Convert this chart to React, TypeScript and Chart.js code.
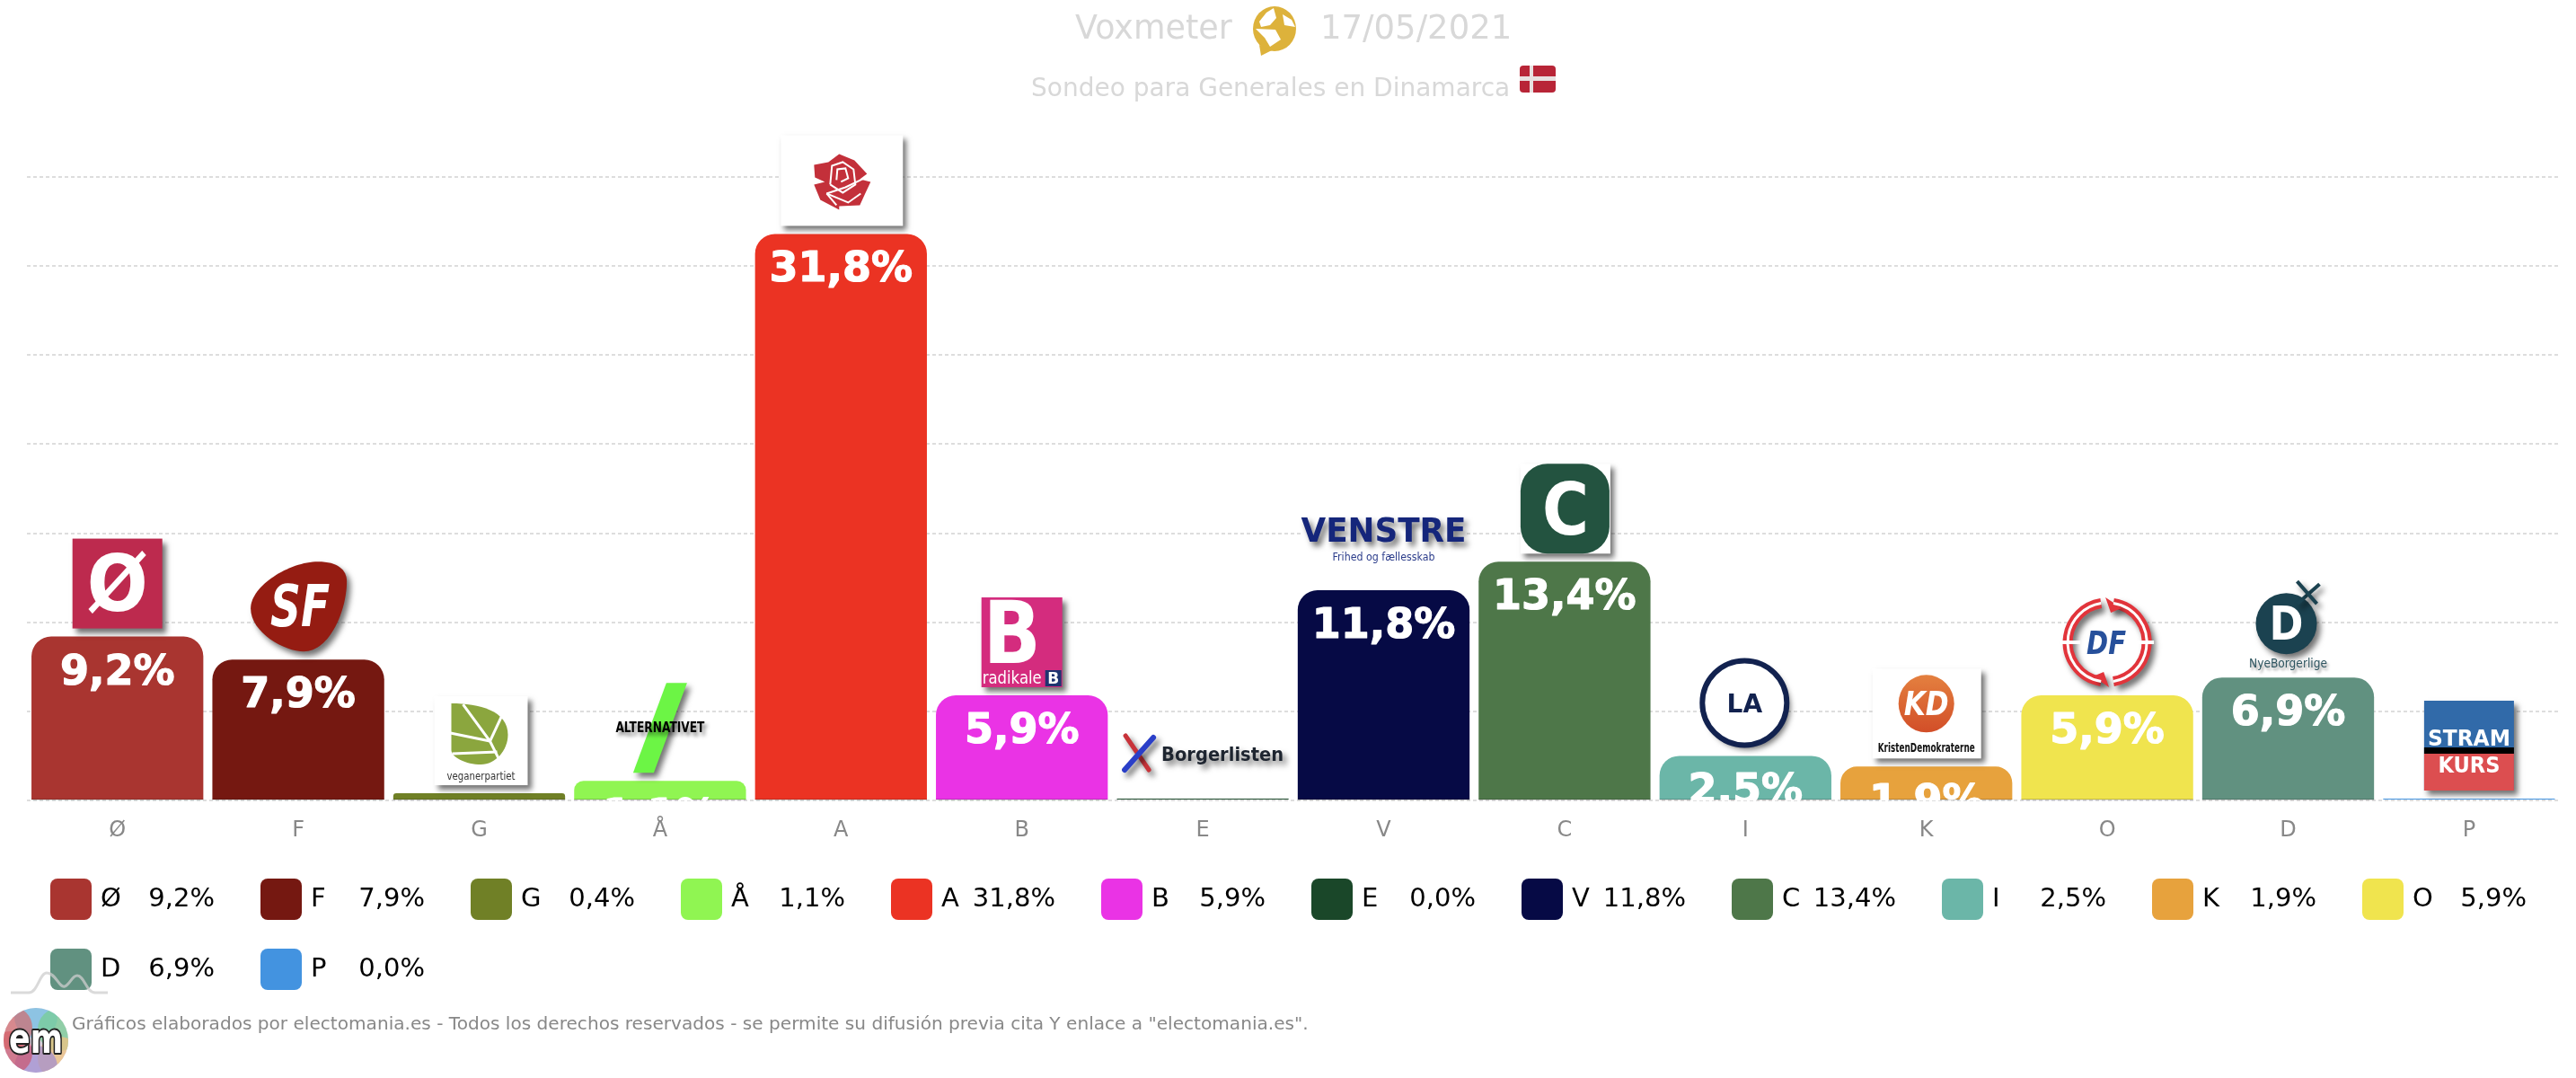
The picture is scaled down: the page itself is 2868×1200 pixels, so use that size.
import React, { useEffect, useRef } from "react";
import { Chart, registerables } from "chart.js";

Chart.register(...registerables);

const parties = ["Ø", "F", "G", "Å", "A", "B", "E", "V", "C", "I", "K", "O", "D", "P"];
const support = [9.2, 7.9, 0.4, 1.1, 31.8, 5.9, 0.0, 11.8, 13.4, 2.5, 1.9, 5.9, 6.9, 0.0];
const partyColors = ["#A93530", "#751811", "#708026", "#90F552", "#EB3323", "#EA33E5", "#1A4729", "#060A45", "#4E7749", "#6BB6A8", "#E7A23D", "#F0E44E", "#619180", "#4393E0"];
const yTicksMax = 35;
const yTickStep = 5;
const pollster = "Voxmeter";
const pollDate = "17/05/2021";
const subtitle = "Sondeo para Generales en Dinamarca";
const footer = 'Gráficos elaborados por electomania.es - Todos los derechos reservados - se permite su difusión previa cita Y enlace a "electomania.es".';

const FONT = '"DejaVu Sans"';
const fmt = (v: number) => v.toFixed(1).replace(".", ",") + "%";

type C = CanvasRenderingContext2D;

function shadow(c: C) {
  c.shadowColor = "rgba(0,0,0,0.55)";
  c.shadowOffsetX = 4;
  c.shadowOffsetY = 5;
  c.shadowBlur = 6;
}
function noShadow(c: C) {
  c.shadowColor = "transparent";
  c.shadowOffsetX = 0;
  c.shadowOffsetY = 0;
  c.shadowBlur = 0;
}
function text(c: C, s: string, x: number, y: number, font: string, color: string, maxW?: number) {
  c.font = font;
  c.fillStyle = color;
  c.textAlign = "center";
  c.textBaseline = "alphabetic";
  if (maxW) c.fillText(s, x, y, maxW);
  else c.fillText(s, x, y);
}
function poly(c: C, pts: number[][]) {
  c.beginPath();
  pts.forEach((p, i) => (i ? c.lineTo(p[0], p[1]) : c.moveTo(p[0], p[1])));
}

const logos: Record<string, (c: C) => void> = {
  "Ø": (c) => {
    shadow(c);
    c.fillStyle = "#BD2A4E";
    c.fillRect(-50, -109, 100, 100);
    noShadow(c);
    text(c, "Ø", 0, -29, `bold 88px ${FONT}`, "#fff", 68);
  },
  F: (c) => {
    shadow(c);
    c.fillStyle = "#951C12";
    c.beginPath();
    c.moveTo(22, -109);
    c.bezierCurveTo(44, -109, 54, -100, 54, -87);
    c.bezierCurveTo(54, -55, 35, -9, 6, -9);
    c.bezierCurveTo(-15, -9, -53, -30, -53, -57);
    c.bezierCurveTo(-53, -82, -10, -109, 22, -109);
    c.fill();
    noShadow(c);
    text(c, "SF", 2, -37, `italic bold 64px ${FONT}`, "#fff", 66);
  },
  G: (c) => {
    shadow(c);
    c.fillStyle = "#fff";
    c.fillRect(-50, -108, 104, 99);
    noShadow(c);
    c.fillStyle = "#8BA63E";
    c.beginPath();
    c.moveTo(-31, -100);
    c.bezierCurveTo(0, -100, 32, -92, 32, -65);
    c.bezierCurveTo(32, -48, 18, -32, 2, -32);
    c.bezierCurveTo(-15, -32, -31, -40, -31, -48);
    c.closePath();
    c.fill();
    c.strokeStyle = "#fff";
    c.lineWidth = 3;
    [[[-18, -99], [12, -58], [23, -36]], [[12, -58], [-32, -67]], [[20, -46], [-30, -44]], [[12, -58], [26, -88]]].forEach((l) => {
      poly(c, l);
      c.stroke();
    });
    text(c, "veganerpartiet", 2, -15, `13px ${FONT}`, "#333", 76);
  },
  "Å": (c) => {
    shadow(c);
    c.fillStyle = "#6CF545";
    poly(c, [[7, -109], [30, -109], [-7, -9], [-30, -9]]);
    c.fill();
    noShadow(c);
    c.shadowColor = "rgba(0,0,0,0.5)";
    c.shadowOffsetX = 3;
    c.shadowOffsetY = 4;
    c.shadowBlur = 4;
    text(c, "ALTERNATIVET", 0, -54, `bold 15px ${FONT}`, "#000", 99);
    noShadow(c);
  },
  A: (c) => {
    shadow(c);
    c.fillStyle = "#fff";
    c.fillRect(-67, -110, 136, 101);
    noShadow(c);
    c.fillStyle = "#C3303A";
    poly(c, [[-2, -89], [15, -82], [29, -67], [21, -61], [33, -58], [26, -43], [21, -32], [-2, -31], [-2, -27], [-23, -38], [-30, -55], [-18, -58], [-29, -63], [-30, -77], [-14, -80]]);
    c.closePath();
    c.fill();
    c.strokeStyle = "#fff";
    c.lineWidth = 2;
    [[[-12, -55], [-10, -76], [2, -80], [14, -72], [16, -55], [2, -46], [-12, -55]], [[-5, -60], [-4, -72], [5, -73], [8, -62], [0, -58]], [[-16, -45], [5, -52], [26, -62]], [[-16, -45], [-5, -32]], [[-16, -45], [8, -35], [22, -45]]].forEach((l) => {
      poly(c, l);
      c.stroke();
    });
  },
  B: (c) => {
    shadow(c);
    c.fillStyle = "#D42C7E";
    c.fillRect(-45, -109, 90, 100);
    noShadow(c);
    text(c, "B", -11, -36, `bold 96px ${FONT}`, "#fff", 64);
    text(c, "radikale", -11, -13, `20px ${FONT}`, "#fff", 66);
    c.fillStyle = "#1F3470";
    c.fillRect(26, -28, 18, 18);
    text(c, "B", 35, -13, `bold 17px ${FONT}`, "#fff", 14);
  },
  E: (c) => {
    c.lineCap = "round";
    shadow(c);
    c.strokeStyle = "#C8333A";
    c.lineWidth = 5;
    poly(c, [[-86, -70], [-60, -32]]);
    c.stroke();
    c.strokeStyle = "#2A3FC8";
    c.lineWidth = 6;
    poly(c, [[-55, -68], [-87, -32]]);
    c.stroke();
    c.lineCap = "butt";
    text(c, "Borgerlisten", 22, -42, `bold 22px ${FONT}`, "#1E2530", 136);
    noShadow(c);
  },
  V: (c) => {
    c.fillStyle = "#fff";
    c.fillRect(-92, -70, 184, 10);
    shadow(c);
    text(c, "VENSTRE", 0, -54, `bold 38px ${FONT}`, "#15267B", 184);
    noShadow(c);
    text(c, "Frihed og fællesskab", 0, -33, `13px ${FONT}`, "#2B3C8A", 114);
  },
  C: (c) => {
    shadow(c);
    c.fillStyle = "#fff";
    c.fillRect(-49, -109, 100, 100);
    noShadow(c);
    c.fillStyle = "#235340";
    c.beginPath();
    c.roundRect(-49, -109, 99, 100, 30);
    c.fill();
    text(c, "C", 1, -30, `bold 80px ${FONT}`, "#fff", 52);
  },
  I: (c) => {
    shadow(c);
    c.fillStyle = "#fff";
    c.beginPath();
    c.arc(-1, -59, 47, 0, Math.PI * 2);
    c.fill();
    noShadow(c);
    c.strokeStyle = "#12224F";
    c.lineWidth = 6;
    c.stroke();
    text(c, "LA", -1, -48, `bold 28px ${FONT}`, "#12224F");
  },
  K: (c) => {
    shadow(c);
    c.fillStyle = "#fff";
    c.fillRect(-60, -109, 121, 100);
    noShadow(c);
    const g = c.createLinearGradient(0, -102, 0, -38);
    g.addColorStop(0, "#E4803F");
    g.addColorStop(1, "#D24E28");
    c.fillStyle = g;
    c.beginPath();
    c.ellipse(0, -70, 31, 32, 0, 0, Math.PI * 2);
    c.fill();
    text(c, "KD", 0, -57, `italic bold 38px ${FONT}`, "#fff", 50);
    text(c, "KristenDemokraterne", 0, -16, `bold 14px ${FONT}`, "#111", 108);
  },
  O: (c) => {
    c.fillStyle = "#fff";
    c.beginPath();
    c.arc(0, -59, 50, 0, Math.PI * 2);
    c.fill();
    shadow(c);
    c.strokeStyle = "#E2343B";
    c.lineWidth = 11;
    c.beginPath();
    c.arc(0, -59, 44, Math.PI * 0.55, Math.PI * 1.45);
    c.stroke();
    c.beginPath();
    c.arc(0, -59, 44, -Math.PI * 0.45, Math.PI * 0.45);
    c.stroke();
    c.fillStyle = "#E2343B";
    poly(c, [[-2, -109], [16, -97], [4, -92]]);
    c.fill();
    poly(c, [[2, -9], [-16, -21], [-4, -26]]);
    c.fill();
    noShadow(c);
    c.strokeStyle = "#fff";
    c.lineWidth = 3;
    c.beginPath();
    c.arc(0, -59, 44, Math.PI * 0.55, Math.PI * 1.45);
    c.stroke();
    c.beginPath();
    c.arc(0, -59, 44, -Math.PI * 0.45, Math.PI * 0.45);
    c.stroke();
    c.fillStyle = "#fff";
    c.fillRect(-52, -61, 22, 4);
    c.fillRect(30, -61, 22, 4);
    text(c, "DF", -1, -46, `italic bold 36px ${FONT}`, "#27509B", 44);
  },
  D: (c) => {
    shadow(c);
    c.fillStyle = "#1B4250";
    c.beginPath();
    c.arc(-2, -60, 34, 0, Math.PI * 2);
    c.fill();
    c.strokeStyle = "#1B4250";
    c.lineWidth = 4;
    poly(c, [[10, -82], [35, -104]]);
    c.stroke();
    poly(c, [[10, -107], [32, -82]]);
    c.stroke();
    noShadow(c);
    text(c, "D", -2, -42, `bold 52px ${FONT}`, "#fff", 38);
    c.shadowColor = "rgba(0,0,0,0.4)";
    c.shadowOffsetX = 2;
    c.shadowOffsetY = 3;
    c.shadowBlur = 3;
    text(c, "NyeBorgerlige", 0, -11, `14px ${FONT}`, "#2E5560", 87);
    noShadow(c);
  },
  P: (c) => {
    shadow(c);
    c.fillStyle = "#316AA9";
    c.fillRect(-50, -109, 100, 100);
    noShadow(c);
    c.fillStyle = "#000";
    c.fillRect(-50, -57, 100, 7);
    c.fillStyle = "#DC4E50";
    c.fillRect(-50, -50, 100, 41);
    text(c, "STRAM", 0, -59, `bold 24px ${FONT}`, "#fff", 92);
    text(c, "KURS", 0, -29, `bold 24px ${FONT}`, "#fff", 69);
  },
};

function drawHeader(c: C) {
  c.textAlign = "left";
  c.textBaseline = "alphabetic";
  c.fillStyle = "#D8D8D8";
  c.font = `36.5px ${FONT}`;
  c.fillText(pollster, 1197, 43);
  c.font = `37px ${FONT}`;
  c.fillText(pollDate, 1470, 43);
  c.font = `28px ${FONT}`;
  c.fillText(subtitle, 1148, 107);
  // globe
  c.fillStyle = "#DDB23B";
  c.beginPath();
  c.ellipse(1419, 32, 24, 25, 0, 0, Math.PI * 2);
  c.fill();
  poly(c, [[1402, 50], [1404, 62], [1416, 56]]);
  c.fill();
  c.fillStyle = "#fff";
  poly(c, [[1410, 14], [1418, 9], [1421, 20], [1414, 28], [1404, 30], [1402, 24]]);
  c.fill();
  poly(c, [[1398, 32], [1420, 33], [1426, 44], [1414, 52], [1408, 42]]);
  c.fill();
  poly(c, [[1428, 16], [1438, 22], [1442, 30], [1430, 28]]);
  c.fill();
  // flag
  c.fillStyle = "#B82537";
  c.beginPath();
  c.roundRect(1692, 73, 40, 30, 4);
  c.fill();
  c.fillStyle = "#E8E0E0";
  c.fillRect(1692, 85, 40, 5);
  c.fillRect(1703, 73, 4, 30);
}

function drawLegend(c: C) {
  parties.forEach((p, i) => {
    const col = i % 12;
    const row = Math.floor(i / 12);
    const x = 56 + col * 234;
    const y = 978 + row * 78;
    c.fillStyle = partyColors[i];
    c.beginPath();
    c.roundRect(x, y, 46, 46, 8);
    c.fill();
    c.fillStyle = "#000";
    c.font = `29px ${FONT}`;
    c.textBaseline = "alphabetic";
    c.textAlign = "left";
    c.fillText(p, x + 56, y + 31);
    c.textAlign = "right";
    c.fillText(fmt(support[i]), x + 183, y + 31);
  });
}

function drawFooter(c: C) {
  // sparkline mark
  c.strokeStyle = "rgba(205,205,205,0.75)";
  c.lineWidth = 3;
  c.beginPath();
  c.moveTo(12, 1105);
  c.lineTo(32, 1105);
  c.bezierCurveTo(42, 1105, 44, 1083, 52, 1083);
  c.bezierCurveTo(62, 1083, 66, 1100, 72, 1098);
  c.bezierCurveTo(78, 1096, 80, 1086, 86, 1086);
  c.bezierCurveTo(94, 1086, 96, 1105, 106, 1105);
  c.lineTo(120, 1105);
  c.stroke();
  // em mark
  c.save();
  c.beginPath();
  c.arc(40, 1158, 36, 0, Math.PI * 2);
  c.clip();
  c.fillStyle = "#D8CFDC";
  c.fillRect(0, 1120, 80, 80);
  const blobs: [number, number, string][] = [
    [40, 1132, "rgba(110,190,230,0.7)"],
    [66, 1146, "rgba(120,205,150,0.75)"],
    [66, 1178, "rgba(240,195,130,0.75)"],
    [40, 1188, "rgba(160,140,210,0.7)"],
    [12, 1172, "rgba(205,85,110,0.7)"],
    [12, 1144, "rgba(215,100,100,0.65)"],
  ];
  blobs.forEach(([x, y, col]) => {
    c.fillStyle = col;
    c.beginPath();
    c.arc(x, y, 24, 0, Math.PI * 2);
    c.fill();
  });
  c.restore();
  c.textAlign = "center";
  c.textBaseline = "alphabetic";
  c.font = `bold 46px ${FONT}`;
  c.lineJoin = "round";
  c.lineWidth = 4;
  c.strokeStyle = "#222";
  c.strokeText("em", 40, 1172, 60);
  c.fillStyle = "#fff";
  c.fillText("em", 40, 1172, 60);
  // copyright
  c.textAlign = "left";
  c.fillStyle = "#888";
  c.font = `20.1px ${FONT}`;
  c.fillText(footer, 80, 1146);
}

const pagePlugin = {
  id: "page",
  afterDatasetsDraw(chart: any) {
    const c: C = chart.ctx;
    const area = chart.chartArea;
    const meta = chart.getDatasetMeta(0);
    meta.data.forEach((bar: any, i: number) => {
      const v = support[i];
      if (v > 0) {
        c.fillStyle = "rgba(0,0,0,0.15)";
        c.fillRect(bar.x - bar.width / 2, area.bottom - 2, bar.width, 2);
        c.save();
        c.beginPath();
        c.rect(area.left, area.top - 20, area.right - area.left, area.bottom - area.top + 20);
        c.clip();
        text(c, fmt(v), bar.x, bar.y + 53, `bold 46px ${FONT}`, "#fff");
        c.lineWidth = 1.2;
        c.lineJoin = "round";
        c.strokeStyle = "#fff";
        c.strokeText(fmt(v), bar.x, bar.y + 53);
        c.restore();
      }
      c.save();
      c.translate(bar.x, bar.y);
      logos[parties[i]](c);
      c.restore();
      noShadow(c);
    });
  },
  afterDraw(chart: any) {
    const c: C = chart.ctx;
    c.save();
    drawHeader(c);
    drawLegend(c);
    drawFooter(c);
    c.restore();
  },
};

export default function App() {
  const ref = useRef<HTMLCanvasElement | null>(null);
  useEffect(() => {
    document.body.style.margin = "0";
    document.body.style.background = "#fff";
    const chart = new Chart(ref.current as HTMLCanvasElement, {
      type: "bar",
      data: {
        labels: parties,
        datasets: [
          {
            data: support,
            backgroundColor: partyColors,
            barPercentage: 0.95,
            categoryPercentage: 1,
            minBarLength: 2,
            borderSkipped: false,
            borderRadius: { topLeft: 22, topRight: 22, bottomLeft: 0, bottomRight: 0 },
          },
        ],
      },
      plugins: [pagePlugin],
      options: {
        responsive: false,
        devicePixelRatio: 1,
        animation: false,
        layout: { padding: { left: 30, right: 18.4, top: 197, bottom: 0 } },
        plugins: { legend: { display: false }, tooltip: { enabled: false }, title: { display: false } },
        scales: {
          x: {
            afterFit: (s: any) => {
              s.height = 309;
            },
            grid: { display: false },
            border: { display: false },
            ticks: { color: "#888888", font: { family: FONT, size: 24 }, padding: 11, maxRotation: 0 },
          },
          y: {
            min: 0,
            max: yTicksMax,
            ticks: { display: false, stepSize: yTickStep },
            grid: { color: "#DDDDDD", lineWidth: 2, drawTicks: false },
            border: { display: false, dash: [4, 3] },
          },
        },
      },
    } as any);
    return () => chart.destroy();
  }, []);
  return <canvas ref={ref} width={2868} height={1200} style={{ display: "block" }} />;
}
